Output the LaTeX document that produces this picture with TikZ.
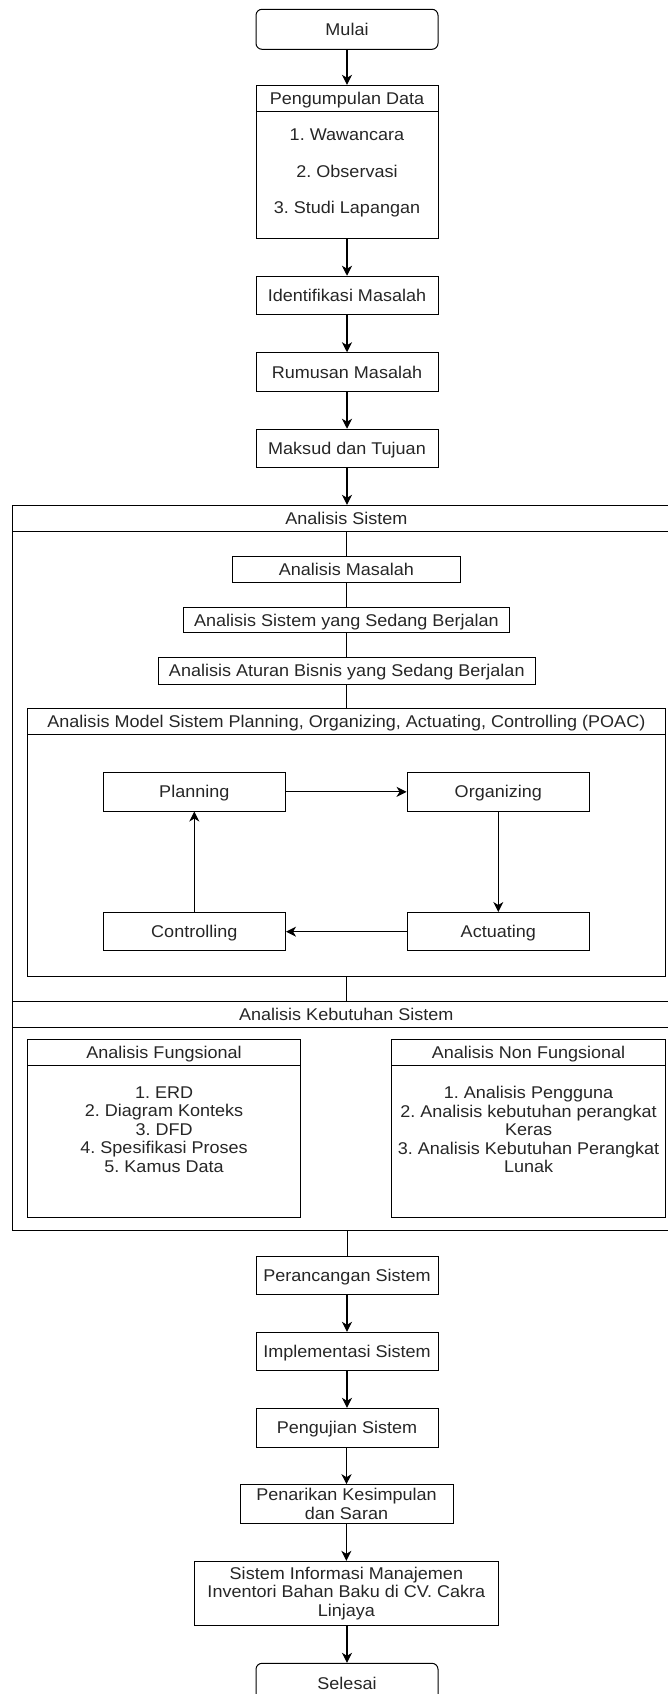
\documentclass[tikz,border=0pt]{standalone}
\usepackage{fontspec}
\setmainfont{Liberation Sans}[FakeStretch=1.06]
\usetikzlibrary{arrows.meta}
\frenchspacing
\begin{document}
\begin{tikzpicture}[x=1pt,y=-1pt,
  every node/.style={font=\fontsize{17}{18.4}\selectfont\frenchspacing, text=black!85, inner sep=0pt},
  blk/.style={draw=black, line width=1pt, rectangle, align=center},
  one/.style={text height=16.2pt, text depth=4pt},
  rnd/.style={blk, one, rounded corners=6pt},
  arr/.style={draw=black, line width=1.1pt, -{Stealth[length=10pt,width=10pt,inset=3pt]}},
  ln/.style={draw=black, line width=1pt},
  txt/.style={align=center}]
\path[use as bounding box] (0,0) rectangle (668,1694);

% start
\node[rnd, minimum width=182pt, minimum height=40pt] (mulai) at (347,29.3) {Mulai};

% Pengumpulan Data
\node[blk, minimum width=182pt, minimum height=153.4pt] (pd) at (347,162) {};
\node[blk, one, minimum width=182pt, minimum height=25.7pt, anchor=north] (pdh) at (pd.north) {Pengumpulan Data};
\node[txt, anchor=base] (pd1) at (347,140.4) {1. Wawancara};
\node[txt, anchor=base] (pd2) at (347,177.4) {2. Observasi};
\node[txt, anchor=base] (pd3) at (347,213.1) {3. Studi Lapangan};

\node[blk, one, minimum width=182pt, minimum height=38.5pt] (ident) at (347,295.5) {Identifikasi Masalah};
\node[blk, one, minimum width=182pt, minimum height=38.5pt] (rumus) at (347,372) {Rumusan Masalah};
\node[blk, one, minimum width=182pt, minimum height=38.5pt] (maksud) at (347,448.5) {Maksud dan Tujuan};

% Analisis Sistem container
\node[blk, minimum width=667.3pt, minimum height=725.4pt] (as) at (346.35,868) {};
\node[blk, one, minimum width=667.3pt, minimum height=25.7pt, anchor=north] (ash) at (as.north) {Analisis Sistem};

\node[blk, one, minimum width=227.6pt, minimum height=26pt] (am) at (346.4,569) {Analisis Masalah};
\node[blk, one, minimum width=326.4pt, minimum height=25.7pt] (asy) at (346.4,620) {Analisis Sistem yang Sedang Berjalan};
\node[blk, one, minimum width=376.7pt, minimum height=26.7pt] (aab) at (346.8,670.7) {Analisis Aturan Bisnis yang Sedang Berjalan};

% POAC
\node[blk, minimum width=638.2pt, minimum height=267.7pt] (poac) at (346.4,842.15) {};
\node[blk, one, minimum width=638.2pt, minimum height=26pt, anchor=north] (poach) at (poac.north) {Analisis Model Sistem Planning, Organizing, Actuating, Controlling (POAC)};
\node[blk, one, minimum width=182.5pt, minimum height=38.3pt] (planning) at (194.3,791.85) {Planning};
\node[blk, one, minimum width=182.5pt, minimum height=38.3pt] (organizing) at (498.3,791.85) {Organizing};
\node[blk, one, minimum width=182.5pt, minimum height=38.3pt] (controlling) at (194.3,931.65) {Controlling};
\node[blk, one, minimum width=182.5pt, minimum height=38.3pt] (actuating) at (498.3,931.65) {Actuating};

% Analisis Kebutuhan Sistem
\node[blk, one, minimum width=667.3pt, minimum height=25.3pt] (kebh) at (346.35,1014.35) {Analisis Kebutuhan Sistem};

\node[blk, minimum width=273.5pt, minimum height=178pt] (fung) at (164.05,1128.3) {};
\node[blk, one, minimum width=273.5pt, minimum height=26pt, anchor=north] (fungh) at (fung.north) {Analisis Fungsional};
\node[txt, anchor=north] (fungt) at (164.05,1086.6) {1. ERD\\2. Diagram Konteks\\3. DFD\\4. Spesifikasi Proses\\5. Kamus Data};

\node[blk, minimum width=273.9pt, minimum height=178pt] (nonf) at (528.55,1128.3) {};
\node[blk, one, minimum width=273.9pt, minimum height=26pt, anchor=north] (nonfh) at (nonf.north) {Analisis Non Fungsional};
\node[txt, anchor=north] (nonft) at (528.55,1086.4) {1. Analisis Pengguna\\2. Analisis kebutuhan perangkat\\Keras\\3. Analisis Kebutuhan Perangkat\\Lunak};

% lower column
\node[blk, one, minimum width=182pt, minimum height=38.3pt] (peranc) at (347,1275.15) {Perancangan Sistem};
\node[blk, one, minimum width=182pt, minimum height=38.4pt] (impl) at (347,1351.5) {Implementasi Sistem};
\node[blk, one, minimum width=182pt, minimum height=38.7pt] (peng) at (347,1427.65) {Pengujian Sistem};
\node[blk, minimum width=213pt, minimum height=38.6pt] (penar) at (346.5,1504) {Penarikan Kesimpulan\\dan Saran};
\node[blk, minimum width=304.2pt, minimum height=64pt] (sim) at (346.4,1593.3) {Sistem Informasi Manajemen\\Inventori Bahan Baku di CV. Cakra\\Linjaya};
\node[rnd, minimum width=182pt, minimum height=40pt] (selesai) at (347,1683.3) {Selesai};

% connectors
\draw[arr] (mulai) -- (pd);
\draw[arr] (pd) -- (ident);
\draw[arr] (ident) -- (rumus);
\draw[arr] (rumus) -- (maksud);
\draw[arr] (maksud.south) -- (maksud.south |- ash.north);
\draw[ln] (ash.south -| am) -- (am.north);
\draw[ln] (am) -- (asy);
\draw[ln] (asy.south -| aab) -- (aab.north);
\draw[ln] (aab.south -| poach) -- (poach.north);
\draw[arr] (planning) -- (organizing);
\draw[arr] (organizing) -- (actuating);
\draw[arr] (actuating) -- (controlling);
\draw[arr] (controlling) -- (planning);
\draw[ln] (poac.south) -- (poac.south |- kebh.north);
\draw[ln] (peranc.north |- as.south) -- (peranc.north);
\draw[arr] (peranc) -- (impl);
\draw[arr] (impl) -- (peng);
\draw[arr] (peng.south -| penar) -- (penar.north);
\draw[arr] (penar.south -| sim) -- (sim.north);
\draw[arr] (sim.south -| selesai) -- (selesai.north);
\end{tikzpicture}
\end{document}
